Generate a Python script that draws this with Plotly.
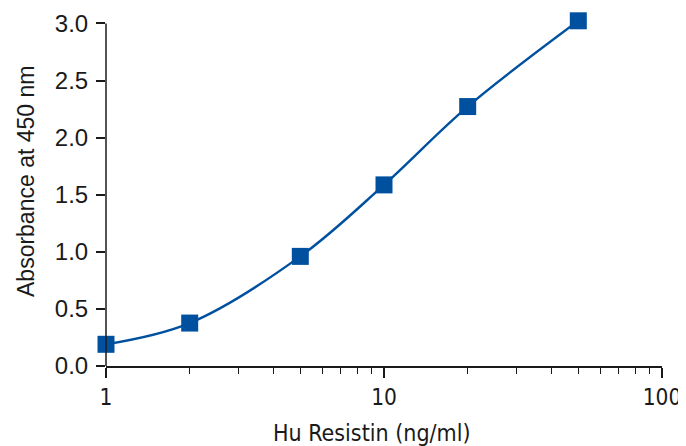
import plotly.graph_objects as go

conc = [1, 2, 5, 10, 20, 50]
absorbance = [0.19, 0.376, 0.96, 1.586, 2.272, 3.023]
x_major = [1, 10, 100]
x_minor = [2, 3, 4, 5, 6, 7, 8, 9, 20, 30, 40, 50, 60, 70, 80, 90]
y_ticks = [0.0, 0.5, 1.0, 1.5, 2.0, 2.5, 3.0]
y_range = [0, 3.03]
x_title = "Hu Resistin (ng/ml)"
y_title = "Absorbance at 450 nm"

color = "#0050a0"
ink = "#1a1a1a"
condensed = "DejaVu Sans Condensed, Liberation Sans, sans-serif"
regular = "Liberation Sans, Arial, sans-serif"

fig = go.Figure()
fig.add_trace(go.Scatter(
    x=conc, y=absorbance, mode="lines+markers",
    line=dict(color=color, width=2.4, shape="spline", smoothing=1.0),
    marker=dict(symbol="square", size=17, color=color),
    cliponaxis=False, showlegend=False,
))

# y axis line ending at the top tick (3.0)
fig.add_shape(type="line", xref="paper", yref="y", x0=0, x1=0,
              y0=y_ticks[0], y1=y_ticks[-1], line=dict(color=ink, width=1.5))

# axis titles as annotations for precise placement
fig.add_annotation(text=y_title, xref="paper", yref="paper", x=0, y=0.5,
                   xshift=-80, yshift=11, xanchor="center", yanchor="middle",
                   textangle=-90, showarrow=False,
                   font=dict(family=regular, size=23, color=ink))
fig.add_annotation(text=x_title, xref="paper", yref="paper", x=0.5, y=0,
                   xshift=-13, yshift=-67, xanchor="center", yanchor="middle",
                   showarrow=False,
                   font=dict(family=condensed, size=23, color=ink))

# page body has an 8px margin, so the figure is shrunk to fit the window
fig.update_layout(
    width=678, height=438,
    margin=dict(l=98, r=24, t=12, b=80, autoexpand=False),
    paper_bgcolor="white", plot_bgcolor="white",
    font=dict(family=regular, size=20, color=ink),
)
fig.update_xaxes(
    type="log", range=[0, 2], automargin=False,
    tickvals=x_major, ticktext=[str(v) for v in x_major],
    tickfont=dict(family=condensed, size=22.5),
    ticks="outside", ticklen=10, tickwidth=1.5, tickcolor=ink, ticklabelstandoff=0,
    showline=True, linecolor=ink, linewidth=1.5,
    showgrid=False, zeroline=False,
    minor=dict(tickvals=x_minor, ticks="outside", ticklen=6, tickwidth=1.2, tickcolor=ink, showgrid=False),
)
fig.update_yaxes(
    range=y_range, automargin=False,
    tickvals=y_ticks, ticktext=[f"{v:.1f}" for v in y_ticks],
    tickfont=dict(family=regular, size=24),
    ticks="outside", ticklen=9, tickwidth=1.5, tickcolor=ink, ticklabelstandoff=3,
    showline=False,
    showgrid=False, zeroline=False,
)

fig.write_html("out.html")
